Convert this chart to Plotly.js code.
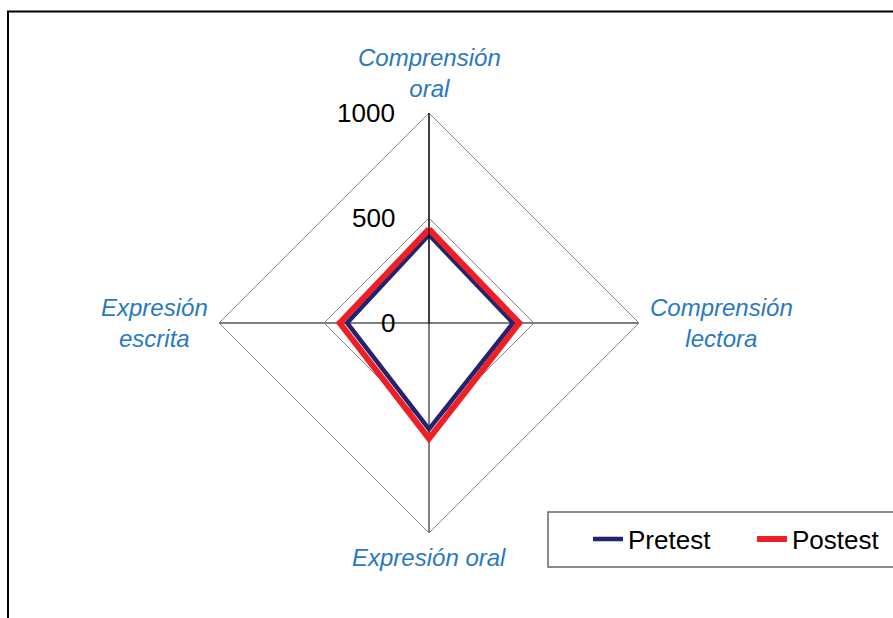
<!DOCTYPE html>
<html>
<head>
<meta charset="utf-8">
<script src="https://cdn.plot.ly/plotly-3.0.1.min.js"></script>
<style>
html,body{margin:0;padding:0;background:#fff;}
#chart{width:893px;height:618px;}
</style>
</head>
<body>
<div id="chart"></div>
<script>
const categories = ['Comprensión oral', 'Comprensión lectora', 'Expresión oral', 'Expresión escrita'];
const categoryLabels = ['Comprensión<br>oral', 'Comprensión<br>lectora', 'Expresión oral', 'Expresión<br>escrita'];
const pretest = [420, 400, 505, 390];
const postest = [447, 430, 550, 425];
const radialTicks = [0, 500, 1000];
const radialTickText = ['0', '500', '1000'];
const rMax = 1000;

function closed(a){ return a.concat([a[0]]); }

const W = 893, H = 618;
const domX = [219/W, 639/W];
const domY = [85/H, 505/H];

const traces = [
  {
    type: 'scatterpolar', name: 'Pretest',
    r: closed(pretest), theta: closed(categories),
    mode: 'lines', line: {color: '#23236f', width: 4.5},
  },
  {
    type: 'scatterpolar', name: 'Postest',
    r: closed(postest), theta: closed(categories),
    mode: 'lines', line: {color: '#ee2026', width: 6},
  },
  // invisible cartesian overlay sharing the polar frame, used to place labels
  {type: 'scatter', x: [], y: [], xaxis: 'x', yaxis: 'y', showlegend: false, hoverinfo: 'skip'}
];

// label anchor directions for the four categories (clockwise from top)
const catDirs = [[0, 1], [1, 0], [0, -1], [-1, 0]];
const annotations = [];
categoryLabels.forEach((txt, i) => {
  const d = catDirs[i];
  annotations.push({
    xref: 'x', yref: 'y', x: d[0] * rMax, y: d[1] * rMax,
    text: txt, showarrow: false, align: 'center',
    xanchor: d[0] > 0 ? 'left' : (d[0] < 0 ? 'right' : 'center'),
    yanchor: d[1] > 0 ? 'bottom' : (d[1] < 0 ? 'top' : 'middle'),
    xshift: d[0] * 9, yshift: d[1] * 9,
    font: {size: 24, color: '#2a78c2', family: 'Liberation Sans, Arial, sans-serif', style: 'italic'}
  });
});
radialTicks.forEach((r, i) => {
  annotations.push({
    xref: 'x', yref: 'y', x: 0, y: r, text: radialTickText[i], showarrow: false,
    xanchor: 'right', yanchor: 'middle', xshift: -32,
    font: {size: 26, color: '#000', family: 'Liberation Sans, Arial, sans-serif'}
  });
});

const layout = {
  width: W, height: H,
  margin: {l: 0, r: 0, t: 0, b: 0, autoexpand: false},
  paper_bgcolor: '#fff',
  plot_bgcolor: 'rgba(0,0,0,0)',
  font: {family: 'Liberation Sans, Arial, sans-serif', color: '#000'},
  showlegend: true,
  legend: {
    orientation: 'h', x: 588/W, xanchor: 'left', y: 0.5 - (539 - 309)/H, yanchor: 'middle',
    borderwidth: 0, bgcolor: 'rgba(0,0,0,0)',
    entrywidth: 119, entrywidthmode: 'pixels',
    font: {size: 26, color: '#000'}
  },
  xaxis: {domain: domX, range: [-rMax, rMax], visible: false, fixedrange: true},
  yaxis: {domain: domY, range: [-rMax, rMax], visible: false, fixedrange: true},
  polar: {
    domain: {x: domX, y: domY},
    gridshape: 'linear',
    bgcolor: 'rgba(0,0,0,0)',
    radialaxis: {
      range: [0, rMax], tickvals: radialTicks, showticklabels: false,
      angle: 90,
      showline: true, linecolor: '#000', linewidth: 1,
      gridcolor: '#888', gridwidth: 1, ticks: ''
    },
    angularaxis: {
      direction: 'clockwise', rotation: 90,
      categoryorder: 'array', categoryarray: categories,
      showline: true, linecolor: '#888', linewidth: 1,
      gridcolor: '#000', gridwidth: 1, ticks: '', showticklabels: false
    }
  },
  annotations: annotations,
  shapes: [
    {type: 'rect', xref: 'paper', yref: 'paper', x0: 8/W, x1: 1.05, y0: -0.05, y1: (H-11.5)/H,
     line: {color: '#000', width: 2}, fillcolor: 'rgba(0,0,0,0)'},
    {type: 'rect', xref: 'paper', yref: 'paper', x0: 548/W, x1: 1.02, y0: (H-567)/H, y1: (H-512)/H,
     line: {color: '#666', width: 1.5}, fillcolor: 'rgba(0,0,0,0)'}
  ]
};

Plotly.newPlot('chart', traces, layout, {displayModeBar: false, staticPlot: true});
</script>
</body>
</html>
